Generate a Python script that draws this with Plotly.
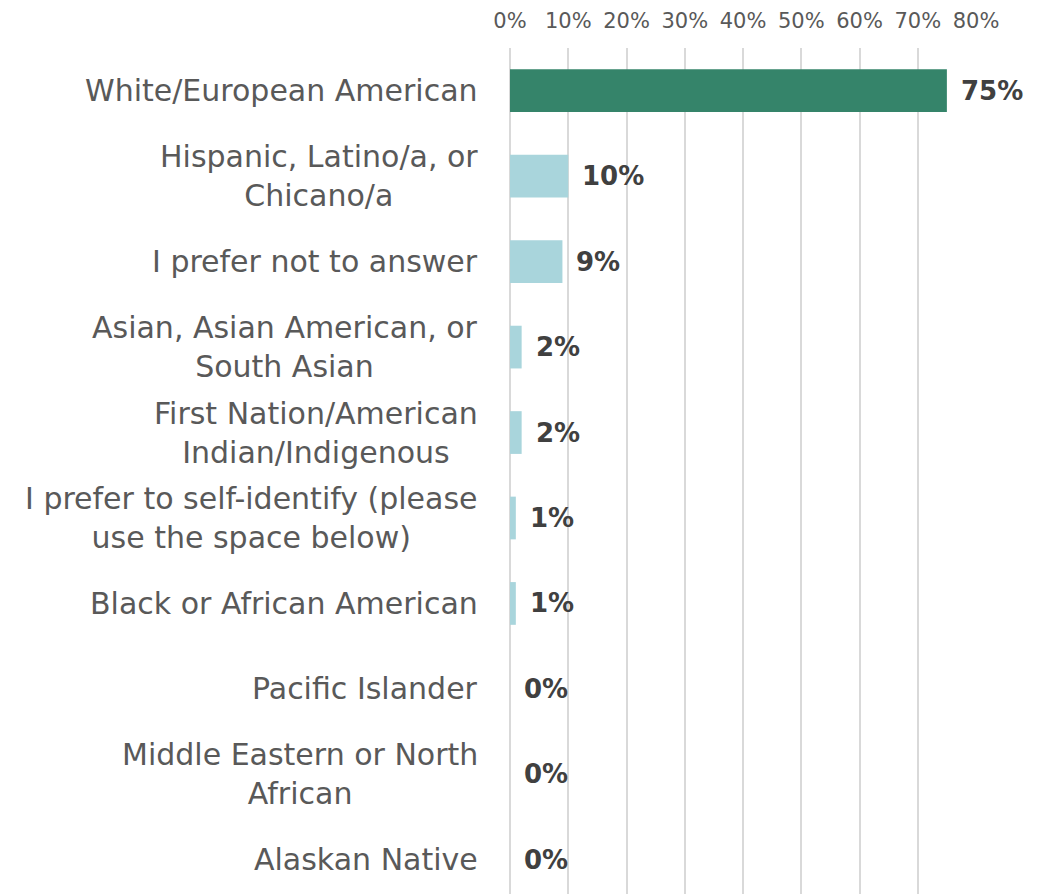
import plotly.graph_objects as go

categories = [
    "White/European American",
    "Hispanic, Latino/a, or<br>Chicano/a",
    "I prefer not to answer",
    "Asian, Asian American, or<br>South Asian",
    "First Nation/American<br>Indian/Indigenous",
    "I prefer to self-identify (please<br>use the space below)",
    "Black or African American",
    "Pacific Islander",
    "Middle Eastern or North<br>African",
    "Alaskan Native",
]
shares = [0.75, 0.10, 0.09, 0.02, 0.02, 0.01, 0.01, 0.0, 0.0, 0.0]
tick_values = [0.0, 0.1, 0.2, 0.3, 0.4, 0.5, 0.6, 0.7, 0.8]

GREEN = "#35846A"
LIGHT = "#A9D5DC"
LABEL_GREY = "#595959"
VALUE_GREY = "#404040"
FONT = "DejaVu Sans"

ids = list(range(len(categories)))
colors = [GREEN] + [LIGHT] * (len(categories) - 1)

fig = go.Figure(
    go.Bar(
        x=shares,
        y=ids,
        orientation="h",
        width=0.5,
        marker=dict(color=colors, line=dict(width=0)),
        hoverinfo="skip",
    )
)

# category labels, centred lines, right-aligned block left of the axis
for i, cat in enumerate(categories):
    fig.add_annotation(
        x=0, xref="paper", y=i, yref="y",
        text=cat, showarrow=False,
        xanchor="right", yanchor="middle", align="center",
        xshift=-30,
        font=dict(family=FONT, size=30, color=LABEL_GREY),
    )

# value labels at the end of each bar
for i, v in enumerate(shares):
    fig.add_annotation(
        x=v, xref="x", y=i, yref="y",
        text=f"<b>{round(v * 100)}%</b>", showarrow=False,
        xanchor="left", yanchor="middle",
        xshift=12,
        font=dict(family=FONT, size=26, color=VALUE_GREY),
    )

fig.update_layout(
    width=1048, height=894,
    margin=dict(l=510, r=72, t=48, b=0),
    paper_bgcolor="white", plot_bgcolor="white",
    showlegend=False,
    bargap=0.5,
    xaxis=dict(
        side="top",
        range=[0, 0.8],
        tickvals=tick_values,
        tickformat=".0%",
        showgrid=True, gridcolor="#D9D9D9", gridwidth=2,
        zeroline=True, zerolinecolor="#D9D9D9", zerolinewidth=2,
        showline=False, ticks="",
        ticklabelstandoff=15,
        tickfont=dict(family=FONT, size=21, color=LABEL_GREY),
        fixedrange=True,
    ),
    yaxis=dict(
        range=[9.4, -0.5],
        showticklabels=False, showgrid=False, zeroline=False,
        showline=False, ticks="",
        fixedrange=True,
    ),
)

fig.write_html("out.html")
